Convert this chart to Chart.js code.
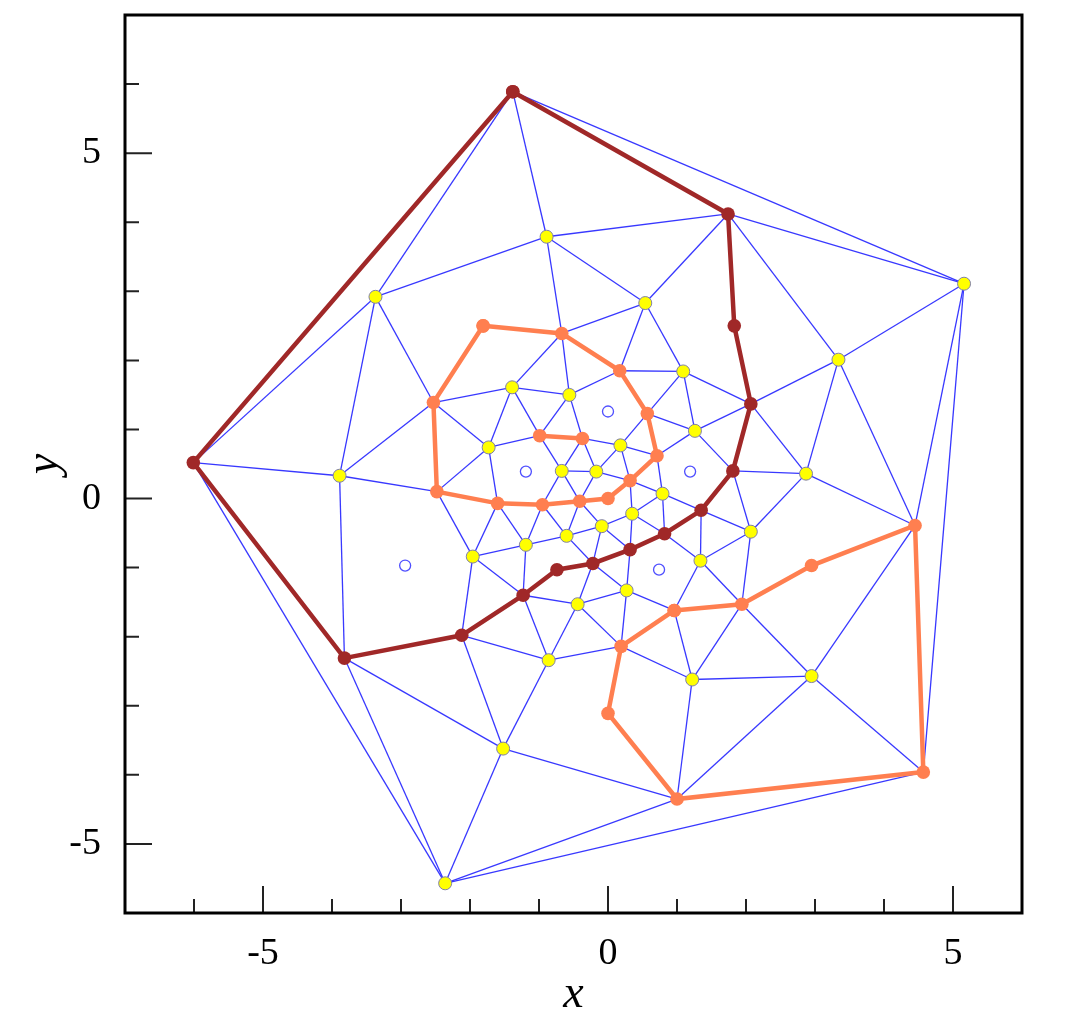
<!DOCTYPE html>
<html>
<head>
<meta charset="utf-8">
<script src="https://cdn.jsdelivr.net/npm/chart.js@4.4.1/dist/chart.umd.min.js"></script>
<style>
  html, body { margin: 0; padding: 0; background: #fff; }
</style>
</head>
<body>
<canvas id="mesh" width="1073" height="1022"></canvas>
<script>
// mesh nodes (data units)
var nodeIds = ['A','B','C','D','E','F','G','H','I',
  'Y1','Y2','Y3','Y5','Y6','Y7','Y8','Y9','Y10','Y11','Y12','Y13','Y14','Y15','Y16','Y17','Y18','Y19',
  'Y20','Y21','Y22','Y23','Y24','Y25','Y27','Y28','Y29','Y30',
  'O1','O2','O3','O4','O5','O6','O7','O8','O9','O10','O11','O12','O13','O14',
  'P1','P2','P3','P4','P5',
  'R1','R2','R3','R4','R5','R6','R7','R8','R9','R10'];
var nodeX = [-1.38, 1.74, 5.16, 4.45, 4.57, 1.00, -2.36, -3.82, -6.01,
  -0.89, 0.54, -3.37, 3.34, -1.39, -0.56, 1.09, 1.26, -1.73, 0.18, -0.67, -0.17, 0.79, 0.35, -0.09, -0.60, -1.19, -1.96,
  1.34, 0.27, -0.44, -0.86, 1.22, -1.52, 2.95, 2.07, 2.87, -3.89,
  -1.81, -0.67, 0.17, 0.57, 0.71, 0.32, 0.00, -0.41, -0.95, -1.60, -2.48, -2.53, -0.99, -0.37,
  0.96, 1.94, 2.95, 0.00, 0.19,
  1.83, 2.07, 1.81, 1.35, 0.82, 0.32, -0.22, -0.74, -1.23, -2.12];
var nodeY = [5.89, 4.12, 3.11, -0.39, -3.96, -4.35, -5.57, -2.31, 0.52,
  3.79, 2.83, 2.92, 2.01, 1.61, 1.50, 1.84, 0.98, 0.74, 0.77, 0.40, 0.39, 0.07, -0.22, -0.40, -0.54, -0.67, -0.84,
  -0.90, -1.33, -1.53, -2.34, -2.62, -3.62, -2.57, -0.48, 0.36, 0.33,
  2.50, 2.39, 1.85, 1.23, 0.62, 0.26, 0.00, -0.04, -0.09, -0.07, 0.10, 1.39, 0.91, 0.87,
  -1.62, -1.53, -0.97, -3.11, -2.14,
  2.50, 1.37, 0.40, -0.17, -0.51, -0.74, -0.94, -1.03, -1.40, -1.98];

// mesh edges
var edges = ['A-B','A-C','B-C','A-I','A-Y3','A-Y1','B-Y1','Y1-Y3','Y1-Y2','B-Y2','B-Y5','C-Y5','C-D','C-E',
  'Y5-D','Y5-Y29','Y5-R2','Y2-Y8','Y8-R2','D-Y29','R2-Y29','R2-R3','R3-Y29','Y29-Y28','R3-Y28','R3-R4',
  'R4-Y28','Y28-Y20','Y28-P2','Y20-P2','R4-Y20','D-Y27','P2-Y27','D-E','Y27-E','Y27-F','Y27-Y24','P2-Y24',
  'P1-P2','P1-Y20','P1-Y24','P1-P5','P1-Y21','P5-Y24','Y24-F','F-Y25','F-E','F-G','G-E','G-Y25','G-H','G-I',
  'H-I','H-Y25','H-R10','H-Y30','I-Y30','I-Y3','Y3-Y30','Y3-O12','Y30-O12','Y30-O11','R10-Y25','R10-Y23',
  'Y25-Y23','Y23-P5','Y23-Y22','Y23-R9','R10-R9','R10-Y19','R9-Y19','R9-Y18','R9-Y22','R7-Y22','Y22-Y21',
  'Y22-P5','P5-Y21','R7-Y21','R7-Y17','R7-Y16','R7-R6','R6-Y21','R6-Y16','R6-Y15','R6-R5','R5-Y15','R5-Y14',
  'R5-R4','R5-Y20','R4-Y14','Y9-R3','Y9-R2','Y9-Y8','Y9-O4','Y9-O5','O5-Y14','O4-Y8','O3-Y8','O3-Y2','O2-Y2',
  'O2-Y1','O2-O3','O2-Y7','O2-Y6','Y6-O12','Y6-Y7','Y6-O13','Y6-Y10','Y10-O12','O12-O11','O11-Y10','O11-O10',
  'O11-Y19','Y10-O10','Y10-O13','O13-Y7','O13-O14','O13-Y12','Y7-O14','Y7-O3','O3-O4','O4-Y11','Y11-O14',
  'O14-Y12','O14-Y13','Y11-Y13','Y11-O6','Y11-O5','O4-O5','O5-O6','O6-Y14','O6-Y15','O6-Y13','Y14-Y15',
  'Y15-Y16','Y16-O8','O8-Y13','Y12-Y13','Y12-O8','Y12-O9','O9-O10','O10-Y19','O10-Y18','O9-Y18','O9-Y17',
  'O9-O8','O8-Y17','Y16-Y17','Y17-Y18','Y18-Y19'];

// plain yellow nodes
var yellowIds = ['C','G','Y1','Y2','Y3','Y5','Y6','Y7','Y8','Y9','Y10','Y11','Y12','Y13','Y14','Y15','Y16',
  'Y17','Y18','Y19','Y20','Y21','Y22','Y23','Y24','Y25','Y27','Y28','Y29','Y30'];

// hollow cell centres
var hollowX = [-2.94, -1.19, 0.00, 1.19, 0.74];
var hollowY = [-0.97, 0.39, 1.26, 0.39, -1.03];

// paths
var darkPath = ['A','B','R1','R2','R3','R4','R5','R6','R7','R8','R9','R10','H','I','A'];
var orangeLoop = ['O1','O2','O3','O4','O5','O6','O7','O8','O9','O10','O11','O12','O1'];
var orangeBit = ['O13','O14'];
var orangeLoop2 = ['P1','P2','P3','D','E','F','P4','P5','P1'];

// axes
var xRange = [-7, 6];
var yRange = [-6, 7];
var xTickLabels = [-5, 0, 5];
var yTickLabels = [-5, 0, 5];
var xMinorTicks = [-6, -5, -4, -3, -2, -1, 0, 1, 2, 3, 4, 5];
var yMinorTicks = [-5, -4, -3, -2, -1, 0, 1, 2, 3, 4, 5, 6];

function pt(id) {
  var i = nodeIds.indexOf(id);
  return { x: nodeX[i], y: nodeY[i] };
}

var datasets = [];

edges.forEach(function (e) {
  var p = e.split('-');
  datasets.push({
    data: [pt(p[0]), pt(p[1])],
    showLine: true,
    borderColor: 'rgba(45,45,255,0.95)',
    borderWidth: 1.3,
    pointRadius: 0,
    order: 5
  });
});

datasets.push({
  data: hollowX.map(function (x, i) { return { x: x, y: hollowY[i] }; }),
  pointRadius: 5.5,
  pointBackgroundColor: '#ffffff',
  pointBorderColor: 'rgba(60,60,255,0.9)',
  pointBorderWidth: 1.3,
  order: 4
});

datasets.push({
  data: yellowIds.map(pt),
  pointRadius: 6.5,
  pointBackgroundColor: '#ffff00',
  pointBorderColor: '#8080a8',
  pointBorderWidth: 1,
  order: 3
});

function pathSet(ids, color) {
  return {
    data: ids.map(pt),
    showLine: true,
    borderColor: color,
    borderWidth: 4.5,
    pointRadius: 6.8,
    pointBackgroundColor: color,
    pointBorderColor: color,
    pointBorderWidth: 0,
    order: 1
  };
}
datasets.push(pathSet(orangeLoop, '#ff7f50'));
datasets.push(pathSet(orangeBit, '#ff7f50'));
datasets.push(pathSet(orangeLoop2, '#ff7f50'));
datasets.push(pathSet(darkPath, '#a02828'));

// frame and inward ticks
var frame = {
  id: 'frame',
  afterDraw: function (chart) {
    var ctx = chart.ctx, a = chart.chartArea;
    var xs = chart.scales.x, ys = chart.scales.y;
    ctx.save();
    ctx.strokeStyle = '#222';
    ctx.lineWidth = 2;
    ctx.beginPath();
    xMinorTicks.forEach(function (v) {
      var px = xs.getPixelForValue(v);
      var len = xTickLabels.indexOf(v) >= 0 ? 27 : 14;
      ctx.moveTo(px, a.bottom);
      ctx.lineTo(px, a.bottom - len);
    });
    yMinorTicks.forEach(function (v) {
      var py = ys.getPixelForValue(v);
      var len = yTickLabels.indexOf(v) >= 0 ? 27 : 14;
      ctx.moveTo(a.left, py);
      ctx.lineTo(a.left + len, py);
    });
    ctx.stroke();
    ctx.strokeStyle = '#000';
    ctx.lineWidth = 3;
    ctx.strokeRect(a.left, a.top, a.right - a.left, a.bottom - a.top);
    ctx.restore();
  }
};

var tickFont = { family: 'Liberation Serif', size: 38 };
var titleFont = { family: 'Liberation Serif', size: 46, style: 'italic', lineHeight: 1 };

new Chart(document.getElementById('mesh'), {
  type: 'scatter',
  data: { datasets: datasets },
  options: {
    responsive: false,
    devicePixelRatio: 1,
    animation: false,
    events: [],
    layout: { padding: { top: 15, right: 51, left: 0, bottom: 0 } },
    plugins: { legend: { display: false }, tooltip: { enabled: false } },
    scales: {
      x: {
        type: 'linear',
        min: xRange[0],
        max: xRange[1],
        grid: { display: false },
        border: { display: false },
        afterBuildTicks: function (s) { s.ticks = xTickLabels.map(function (v) { return { value: v }; }); },
        afterFit: function (s) { s.height = 109; s.paddingLeft = 0; s.paddingRight = 0; },
        ticks: { font: tickFont, color: '#000', padding: 10, maxRotation: 0 },
        title: { display: true, text: 'x', font: titleFont, color: '#000', padding: { top: 0, bottom: 4 } }
      },
      y: {
        type: 'linear',
        min: yRange[0],
        max: yRange[1],
        grid: { display: false },
        border: { display: false },
        afterBuildTicks: function (s) { s.ticks = yTickLabels.map(function (v) { return { value: v }; }); },
        afterFit: function (s) { s.width = 125; s.paddingTop = 0; s.paddingBottom = 0; },
        ticks: { font: tickFont, color: '#000', padding: 16 },
        title: { display: true, text: 'y', font: titleFont, color: '#000', padding: { top: 22, bottom: 0 } }
      }
    }
  },
  plugins: [frame]
});
</script>
</body>
</html>
